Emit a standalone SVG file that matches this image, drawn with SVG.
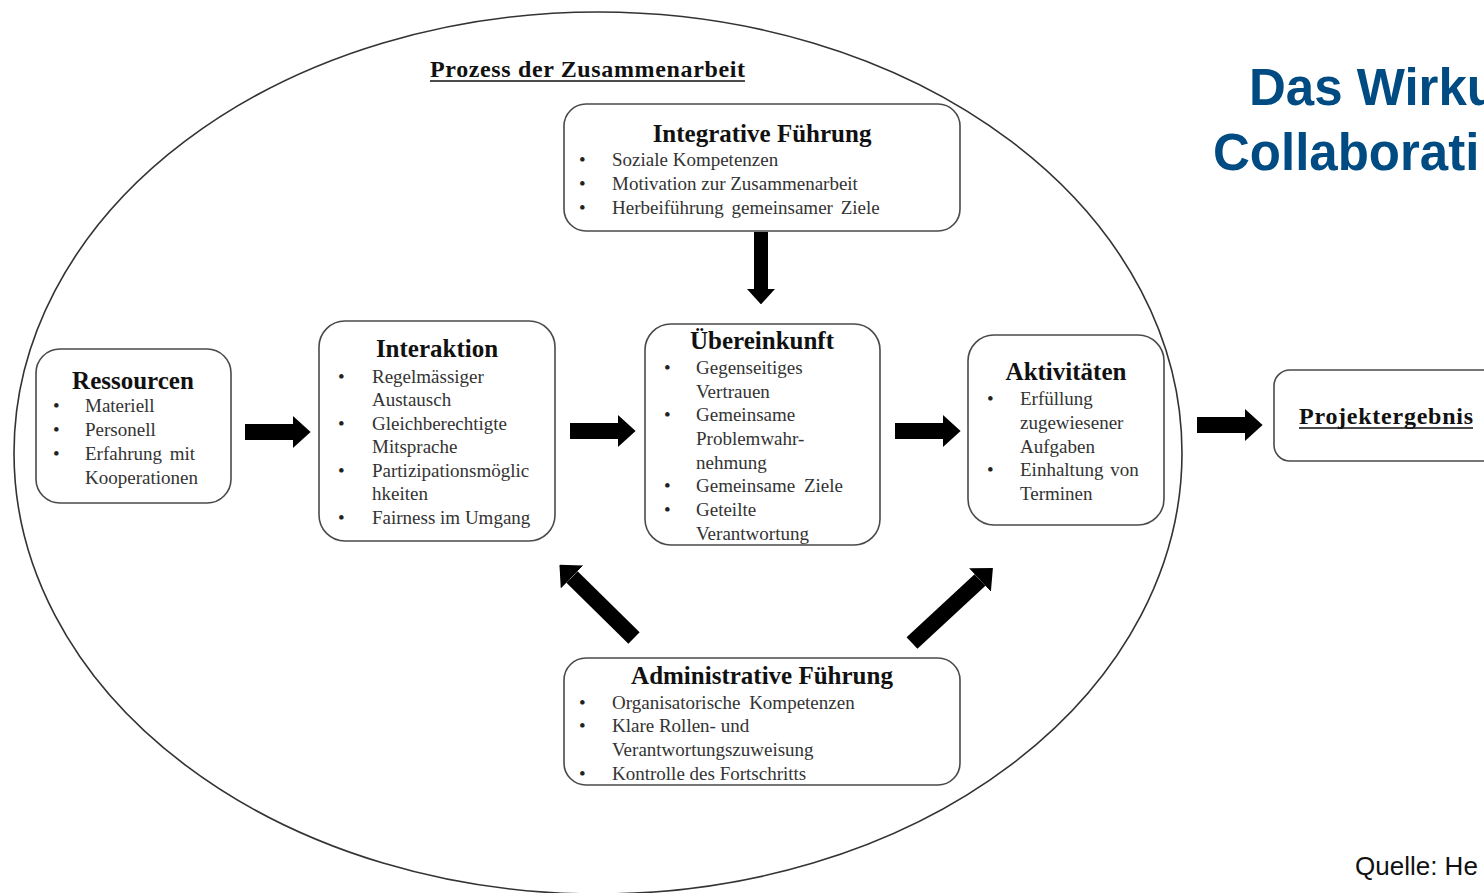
<svg xmlns="http://www.w3.org/2000/svg" width="1484" height="893" viewBox="0 0 1484 893">
<style>
.box{fill:#fff;stroke:#4a4a4a;stroke-width:1.6}
.ttl{font-family:"Liberation Serif","Times New Roman",serif;font-weight:bold;font-size:25px;fill:#111;text-anchor:middle}
.itm{font-family:"Liberation Serif","Times New Roman",serif;font-size:19px;fill:#333}
.bul{font-family:"Liberation Serif","Times New Roman",serif;font-size:19px;fill:#222}
.und{font-family:"Liberation Serif","Times New Roman",serif;font-weight:bold;font-size:24px;fill:#111}
.uline{stroke:#111;stroke-width:1.6}
.blue{font-family:"Liberation Sans",Arial,sans-serif;font-weight:bold;font-size:51px;fill:#004b82}
.src{font-family:"Liberation Sans",Arial,sans-serif;font-size:26px;fill:#111}
.conn{stroke:#000;fill:none;marker-end:url(#head)}
</style>
<defs>
<marker id="head" viewBox="0 0 1.1 2" refX="0" refY="1" markerWidth="1.1" markerHeight="2" orient="auto" markerUnits="strokeWidth">
<path d="M0,0 L1.1,1 L0,2 Z" fill="#000"/>
</marker>
</defs>
<rect width="1484" height="893" fill="#fff"/>

<g id="prozess">
<ellipse cx="598" cy="453" rx="584" ry="441" fill="none" stroke="#333" stroke-width="1.6"/>
<text class="und" x="430" y="77" textLength="315" lengthAdjust="spacing">Prozess der Zusammenarbeit</text>
<line class="uline" x1="430" y1="81" x2="745" y2="81"/>
</g>

<g id="titel">
<text class="blue" x="1249" y="105">Das Wirku</text>
<text class="blue" x="1213" y="170">Collaborati</text>
</g>

<g id="quelle">
<text class="src" x="1355" y="875">Quelle: He</text>
</g>

<g id="connectors">
<line class="conn" x1="245" y1="432" x2="293" y2="432" stroke-width="16"/>
<line class="conn" x1="570" y1="431" x2="618" y2="431" stroke-width="16"/>
<line class="conn" x1="895" y1="431" x2="943" y2="431" stroke-width="16"/>
<line class="conn" x1="1197" y1="425" x2="1245" y2="425" stroke-width="16"/>
<line class="conn" x1="761" y1="232" x2="761" y2="289" stroke-width="14"/>
<line class="conn" x1="634" y1="638" x2="572" y2="577" stroke-width="16"/>
<line class="conn" x1="912" y1="643" x2="980" y2="580" stroke-width="16"/>
</g>

<g id="ressourcen">
<rect class="box" x="36" y="349" width="195" height="154" rx="24"/>
<text class="ttl" x="133" y="389">Ressourcen</text>
<text class="bul" x="53" y="412">•</text><text class="itm" x="85" y="412">Materiell</text>
<text class="bul" x="53" y="436">•</text><text class="itm" x="85" y="436">Personell</text>
<text class="bul" x="53" y="460">•</text><text class="itm" x="85" y="460" word-spacing="3">Erfahrung mit</text>
<text class="itm" x="85" y="484">Kooperationen</text>
</g>

<g id="interaktion">
<rect class="box" x="319" y="321" width="236" height="220" rx="26"/>
<text class="ttl" x="437" y="357">Interaktion</text>
<text class="bul" x="338" y="383">•</text><text class="itm" x="372" y="383">Regelmässiger</text>
<text class="itm" x="372" y="406">Austausch</text>
<text class="bul" x="338" y="430">•</text><text class="itm" x="372" y="430">Gleichberechtigte</text>
<text class="itm" x="372" y="453">Mitsprache</text>
<text class="bul" x="338" y="477">•</text><text class="itm" x="372" y="477">Partizipationsmöglic</text>
<text class="itm" x="372" y="500">hkeiten</text>
<text class="bul" x="338" y="524">•</text><text class="itm" x="372" y="524">Fairness im Umgang</text>
</g>

<g id="integrative">
<rect class="box" x="564" y="104" width="396" height="127" rx="22"/>
<text class="ttl" x="762" y="142">Integrative Führung</text>
<text class="bul" x="579" y="166">•</text><text class="itm" x="612" y="166">Soziale Kompetenzen</text>
<text class="bul" x="579" y="190">•</text><text class="itm" x="612" y="190">Motivation zur Zusammenarbeit</text>
<text class="bul" x="579" y="214">•</text><text class="itm" x="612" y="214" word-spacing="3">Herbeiführung gemeinsamer Ziele</text>
</g>

<g id="uebereinkunft">
<rect class="box" x="645" y="324" width="235" height="221" rx="26"/>
<text class="ttl" x="762" y="349">Übereinkunft</text>
<text class="bul" x="664" y="374">•</text><text class="itm" x="696" y="374">Gegenseitiges</text>
<text class="itm" x="696" y="398">Vertrauen</text>
<text class="bul" x="664" y="421">•</text><text class="itm" x="696" y="421">Gemeinsame</text>
<text class="itm" x="696" y="445">Problemwahr-</text>
<text class="itm" x="696" y="469">nehmung</text>
<text class="bul" x="664" y="492">•</text><text class="itm" x="696" y="492" word-spacing="4">Gemeinsame Ziele</text>
<text class="bul" x="664" y="516">•</text><text class="itm" x="696" y="516">Geteilte</text>
<text class="itm" x="696" y="540">Verantwortung</text>
</g>

<g id="aktivitaeten">
<rect class="box" x="968" y="335" width="196" height="190" rx="26"/>
<text class="ttl" x="1066" y="380">Aktivitäten</text>
<text class="bul" x="987" y="405">•</text><text class="itm" x="1020" y="405">Erfüllung</text>
<text class="itm" x="1020" y="429">zugewiesener</text>
<text class="itm" x="1020" y="453">Aufgaben</text>
<text class="bul" x="987" y="476">•</text><text class="itm" x="1020" y="476" word-spacing="2">Einhaltung von</text>
<text class="itm" x="1020" y="500">Terminen</text>
</g>

<g id="administrative">
<rect class="box" x="564" y="658" width="396" height="127" rx="22"/>
<text class="ttl" x="762" y="684">Administrative Führung</text>
<text class="bul" x="579" y="709">•</text><text class="itm" x="612" y="709" word-spacing="4">Organisatorische Kompetenzen</text>
<text class="bul" x="579" y="732">•</text><text class="itm" x="612" y="732">Klare Rollen- und</text>
<text class="itm" x="612" y="756">Verantwortungszuweisung</text>
<text class="bul" x="579" y="780">•</text><text class="itm" x="612" y="780">Kontrolle des Fortschritts</text>
</g>

<g id="projektergebnis">
<rect class="box" x="1274" y="370" width="240" height="91" rx="16"/>
<text class="und" x="1299" y="424" textLength="174" lengthAdjust="spacing">Projektergebnis</text>
<line class="uline" x1="1299" y1="428" x2="1473" y2="428"/>
</g>
</svg>
